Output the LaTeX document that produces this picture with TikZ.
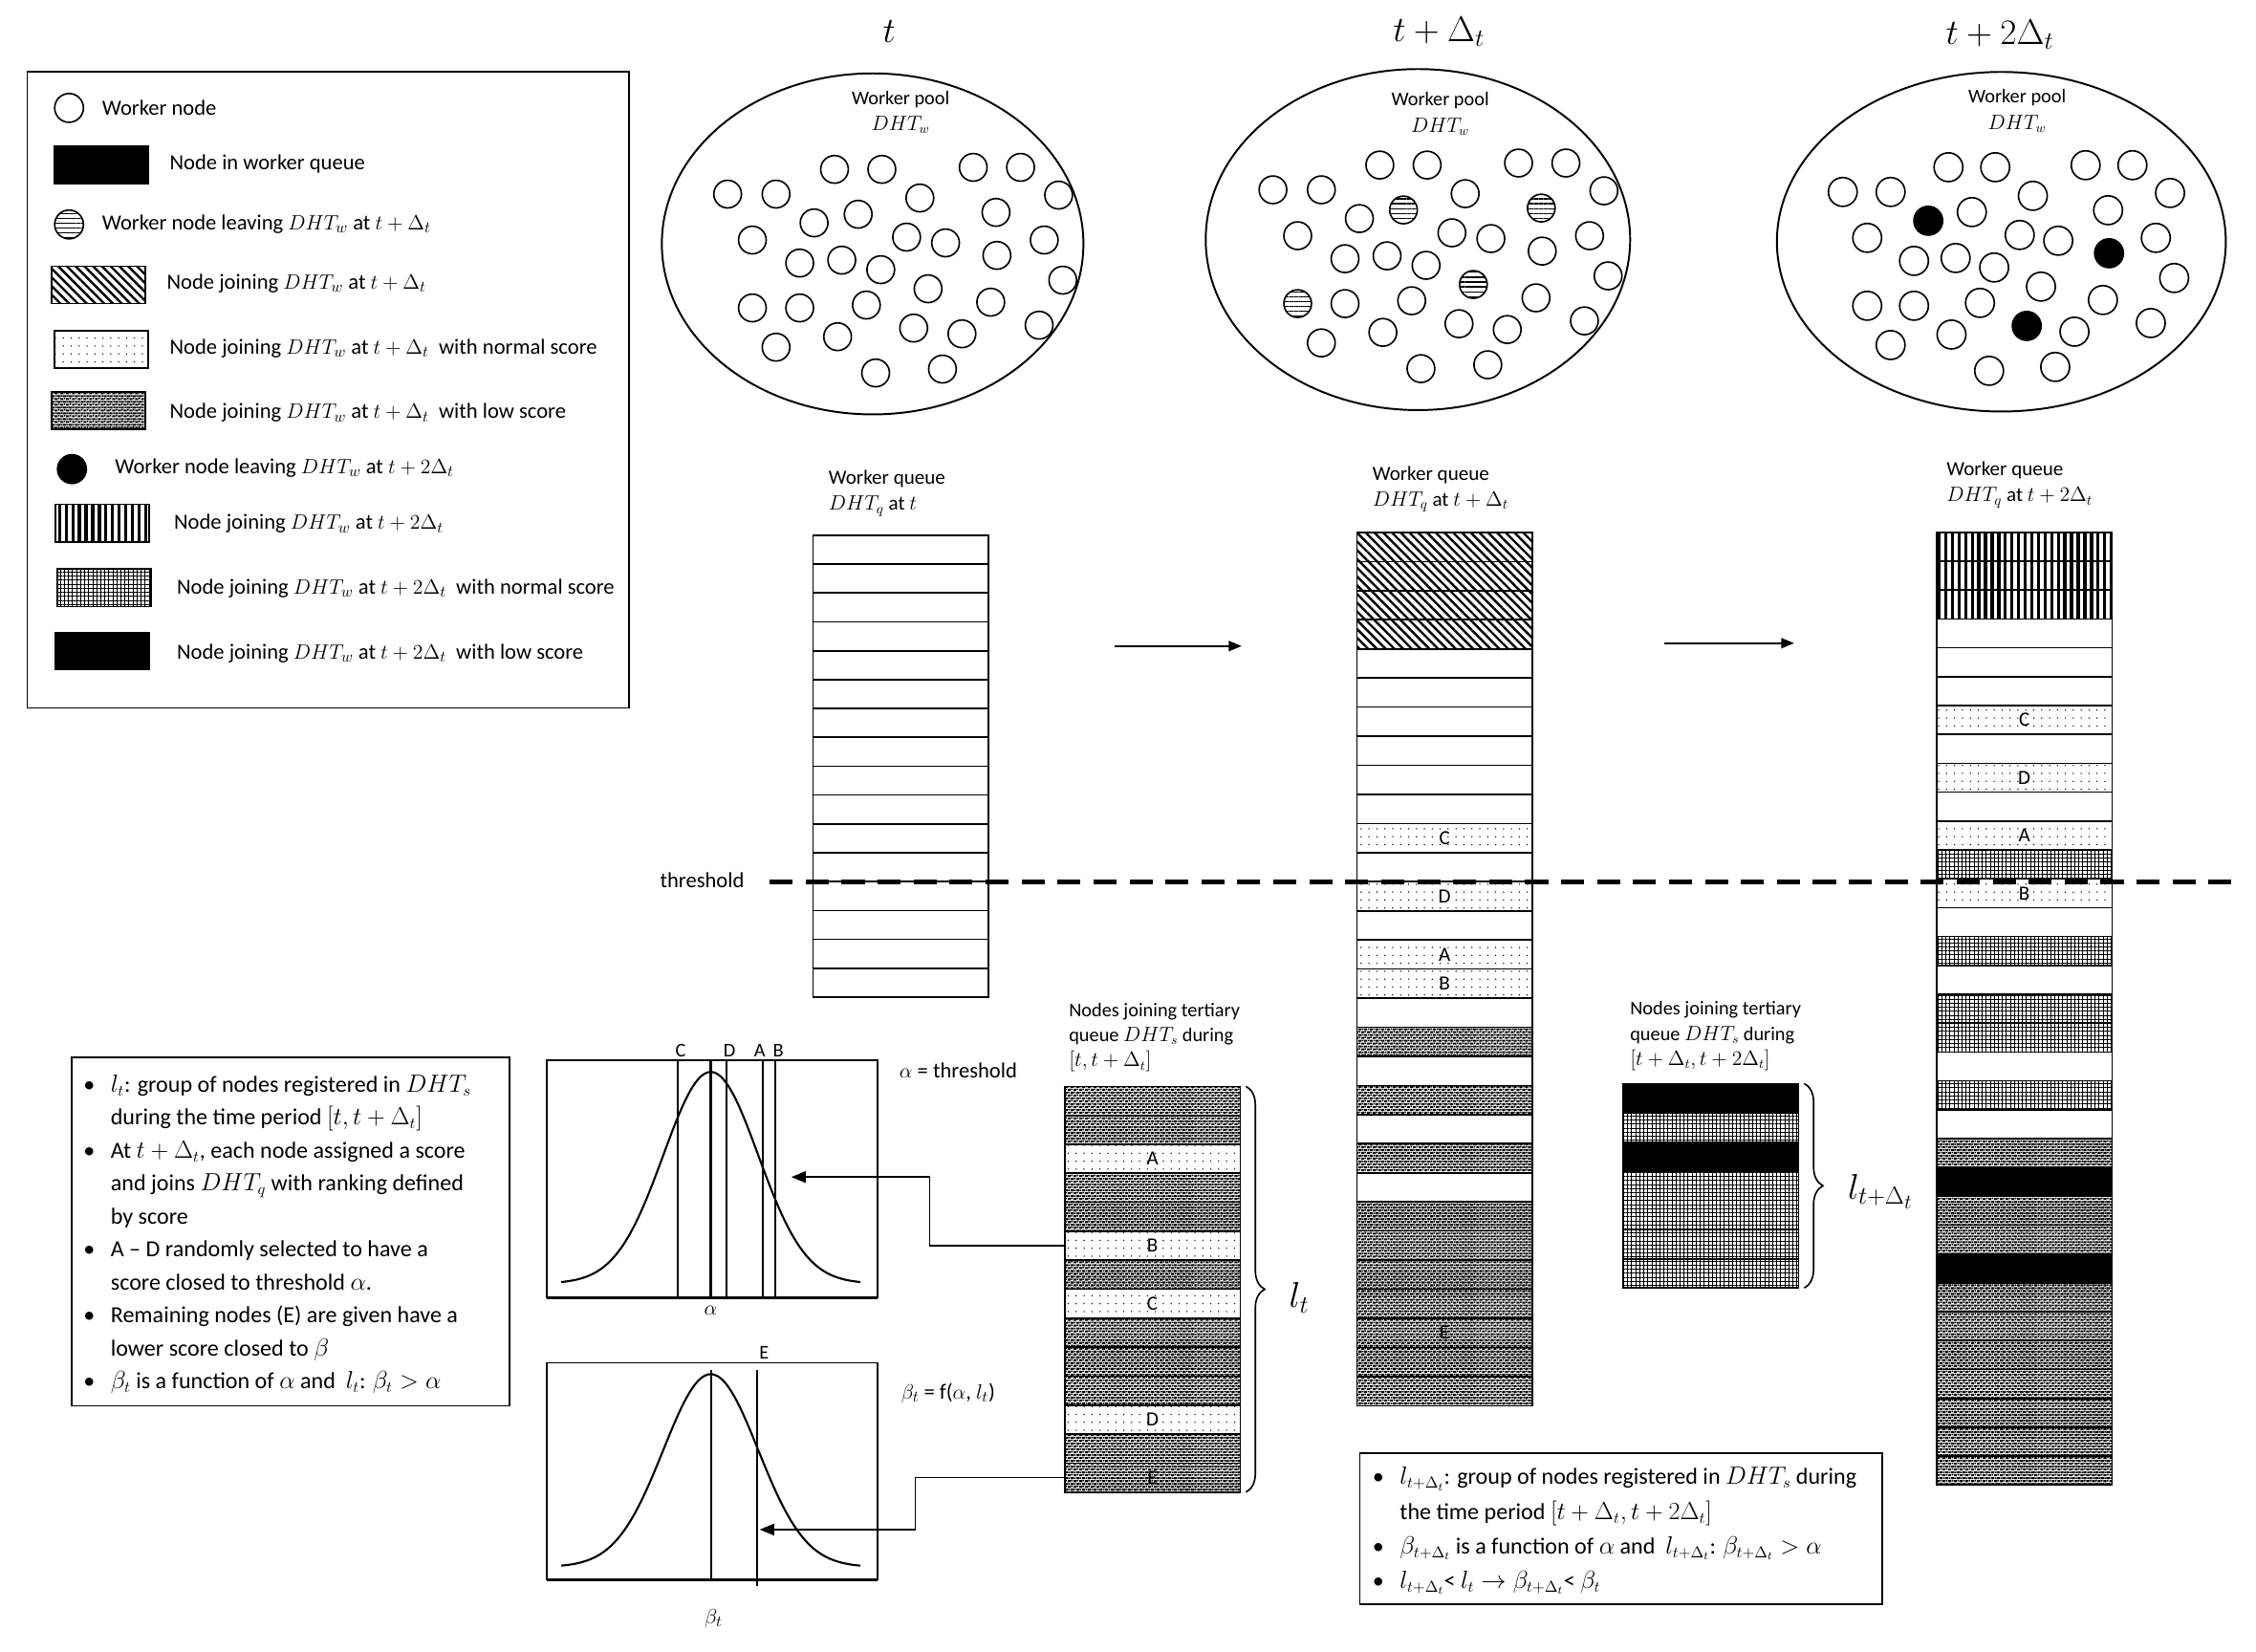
\documentclass[tikz,border=0pt]{standalone}
\usepackage{fontspec}
\setmainfont{Carlito}
\usetikzlibrary{calc,patterns,patterns.meta,arrows.meta,decorations.pathreplacing,shapes.geometric}
\pgfdeclarepatternformonly{speckle}{\pgfqpoint{-0.1pt}{-0.1pt}}{\pgfqpoint{4.1pt}{4.1pt}}{\pgfqpoint{4pt}{4pt}}{%
  \pgfpathrectangle{\pgfqpoint{0pt}{0pt}}{\pgfqpoint{2.2pt}{1.4pt}}%
  \pgfpathrectangle{\pgfqpoint{2pt}{2pt}}{\pgfqpoint{2.2pt}{1.4pt}}%
  \pgfpathrectangle{\pgfqpoint{2.6pt}{0.3pt}}{\pgfqpoint{1pt}{1pt}}%
  \pgfpathrectangle{\pgfqpoint{0.4pt}{2.5pt}}{\pgfqpoint{1pt}{1pt}}%
  \pgfusepath{fill}%
}
\tikzset{
  every node/.style={inner sep=0pt, outer sep=0pt},
  txt/.style={font=\fontsize{15}{18}\selectfont},
  small/.style={font=\fontsize{13.5}{17.5}\selectfont, align=left},
  rW/.style={fill=white},
  rH/.style={pattern={Lines[angle=-45,distance=4.3pt,line width=1.6pt]}},
  rN/.style={pattern={Dots[distance=5.5pt,radius=0.5pt]}},
  rL/.style={pattern=speckle},
  rV/.style={pattern={Lines[angle=90,distance=4.6pt,line width=2.2pt]}},
  rX/.style={pattern={Hatch[distance=2.8pt,line width=0.5pt]}},
  rK/.style={fill=black},
  qrow/.style={draw, line width=1.1pt, minimum width=122pt, minimum height=#1, anchor=north west, font=\fontsize{14}{14}\selectfont},
  lgrect/.style={draw, line width=1.1pt, minimum width=65pt, minimum height=26pt},
  cW/.style={draw, circle, line width=1.1pt, minimum size=19.2pt},
  cS/.style={cW, pattern={Lines[angle=0,distance=3.4pt,line width=0.9pt]}},
  cB/.style={cW, fill=black},
  pool/.style={draw, ellipse, line width=1.3pt},
  graph/.style={draw, line width=1.1pt},
  curve/.style={line width=1.4pt},
  flow/.style={line width=1.5pt, -{Triangle[length=9pt,width=7pt]}},
  garrow/.style={line width=1pt, -{Triangle[length=10pt,width=8pt]}},
  brc/.style={decorate, decoration={brace, amplitude=13pt}, line width=1.1pt},
  title/.style={font=\fontsize{24}{28}\selectfont},
  bigl/.style={font=\fontsize{27}{30}\selectfont},
}
\begin{document}
\begin{tikzpicture}[x=1pt,y=-1pt]
\useasboundingbox (0,0) rectangle (1568,1148);
\fill[white] (0,0) rectangle (1568,1148);

% ---------------- legend ----------------
\node[draw, line width=1.1pt, minimum width=418pt, minimum height=442pt, anchor=north west] (legend) at (19,50) {};
\node[cW, minimum size=20pt] (lg1) at (48,75) {};
\node[txt, anchor=west] (lt1) at (71,75) {Worker node};
\node[lgrect, rK] (lg2) at (70.5,114.5) {};
\node[txt, anchor=west] (lt2) at (118,114) {Node in worker queue};
\node[cS, minimum size=20pt] (lg3) at (48,156) {};
\node[txt, anchor=west] (lt3) at (71,156) {Worker node leaving $DHT_w$ at $t+\Delta_t$};
\node[lgrect, rH] (lg4) at (68.5,198) {};
\node[txt, anchor=west] (lt4) at (116,197) {Node joining $DHT_w$ at $t+\Delta_t$};
\node[lgrect, rN] (lg5) at (70.5,243) {};
\node[txt, anchor=west] (lt5) at (118,242) {Node joining $DHT_w$ at $t+\Delta_t$\ \ with normal score};
\node[lgrect, rL] (lg6) at (68.5,285.5) {};
\node[txt, anchor=west] (lt6) at (118,287) {Node joining $DHT_w$ at $t+\Delta_t$\ \ with low score};
\node[cB, minimum size=20pt] (lg7) at (50,326) {};
\node[txt, anchor=west] (lt7) at (80,325) {Worker node leaving $DHT_w$ at $t+2\Delta_t$};
\node[lgrect, rV] (lg8) at (71,363.5) {};
\node[txt, anchor=west] (lt8) at (121,364) {Node joining $DHT_w$ at $t+2\Delta_t$};
\node[lgrect, rX] (lg9) at (72.5,408.5) {};
\node[txt, anchor=west] (lt9) at (123,409) {Node joining $DHT_w$ at $t+2\Delta_t$\ \ with normal score};
\node[lgrect, rK] (lg10) at (71,452.5) {};
\node[txt, anchor=west] (lt10) at (123,454) {Node joining $DHT_w$ at $t+2\Delta_t$\ \ with low score};

% ---------------- titles ----------------
\node[title] (ti1) at (618,22) {$t$};
\node[title] (ti2) at (1000,22) {$t+\Delta_t$};
\node[title] (ti3) at (1390,24) {$t+2\Delta_t$};

% ---------------- pools ----------------
\node[pool, minimum width=293pt, minimum height=237pt] (e1) at (606.5,169.5) {};
\node[pool, minimum width=295pt, minimum height=237pt] (e2) at (985.5,166.5) {};
\node[pool, minimum width=312pt, minimum height=236pt] (e3) at (1391,168) {};
\node[txt, font=\fontsize{13.5}{16}\selectfont] (w1) at (626,69) {Worker pool};
\node[txt, font=\fontsize{13.5}{16}\selectfont] (d1) at (626,87) {$DHT_w$};
\node[txt, font=\fontsize{13.5}{16}\selectfont] (w2) at (1001,70) {Worker pool};
\node[txt, font=\fontsize{13.5}{16}\selectfont] (d2) at (1001,88) {$DHT_w$};
\node[txt, font=\fontsize{13.5}{16}\selectfont] (w3) at (1402,68) {Worker pool};
\node[txt, font=\fontsize{13.5}{16}\selectfont] (d3) at (1402,86) {$DHT_w$};

\foreach \x/\y/\sb/\sc [count=\k] in {
 -34.6/-51.8/cW/cW, -4.0/-51.8/cW/cW, 55.1/-53.2/cW/cW, 85.7/-53.2/cW/cW,
 -103.7/-34.6/cW/cW, -72.4/-34.6/cW/cW, 20.6/-31.9/cW/cW, 110.3/-33.9/cW/cW,
 -19.3/-20.6/cS/cW, -47.8/-14.6/cW/cB, 69.8/-21.9/cS/cW, -87.7/-2.7/cW/cW,
 12.0/-4.7/cW/cW, 37.2/-0.7/cW/cW, 101.0/-2.7/cW/cW, 70.4/8.0/cW/cB,
 -57.1/13.3/cW/cW, -29.9/11.3/cW/cW, -4.7/17.9/cW/cW, 113.0/25.2/cW/cW,
 25.9/31.2/cS/cW, -87.7/44.5/cS/cW, -57.1/44.5/cW/cW, -14.0/42.5/cW/cW,
 66.4/40.5/cW/cW, 16.6/58.5/cW/cB, 47.8/62.5/cW/cW, 97.7/56.5/cW/cW,
 -72.4/71.8/cW/cW, -32.6/64.5/cW/cW, -8.0/89.7/cW/cW, 35.2/87.0/cW/cW} {
  \node[cW] (pa\k) at ($(606.5,169.5)+(1.075*\x+10.7,\y)$) {};
  \node[\sb] (pb\k) at ($(985.5,166.5)+(1.075*\x+10.7,\y)$) {};
  \node[\sc, minimum size=20pt] (pc\k) at ($(1391,168)+(1.063*\x,\y)$) {};
}

% ---------------- worker queues ----------------
\node[small, anchor=north west, font=\fontsize{14}{18}\selectfont] (qal) at (576,327) {Worker queue\\$DHT_q$ at $t$};
\node[small, anchor=north west, font=\fontsize{14}{18}\selectfont] (qbl) at (954,324) {Worker queue\\$DHT_q$ at $t+\Delta_t$};
\node[small, anchor=north west, font=\fontsize{14}{18}\selectfont] (qcl) at (1353,321) {Worker queue\\$DHT_q$ at $t+2\Delta_t$};

\foreach \i in {1,...,16}
  \node[qrow=20.06pt, rW] (qa\i) at (565,{372+(\i-1)*20.06}) {};

\foreach \s/\lab [count=\i] in {rH/{},rH/{},rH/{},rH/{},rW/{},rW/{},rW/{},rW/{},rW/{},rW/{},
  rN/C,rW/{},rN/D,rW/{},rN/A,rN/B,rW/{},rL/{},rW/{},rL/{},rW/{},rL/{},rW/{},
  rL/{},rL/{},rL/{},rL/{},rL/E,rL/{},rL/{}}
  \node[qrow=20.23pt, \s] (qb\i) at (943,{370+(\i-1)*20.23}) {\lab};

\foreach \s/\lab [count=\i] in {rV/{},rV/{},rV/{},rW/{},rW/{},rW/{},rN/C,rW/{},rN/D,rW/{},
  rN/A,rX/{},rN/B,rW/{},rX/{},rW/{},rX/{},rX/{},rW/{},rX/{},rW/{},rL/{},rK/{},
  rL/{},rL/{},rK/{},rL/{},rL/{},rL/{},rL/{},rL/{},rL/{},rL/{}}
  \node[qrow=20.06pt, \s] (qc\i) at (1346,{370+(\i-1)*20.06}) {\lab};

% arrows between queues
\coordinate (f1a) at (775,449); \coordinate (f1b) at (863,449);
\coordinate (f2a) at (1157,447); \coordinate (f2b) at (1247,447);
\draw[flow] (f1a) -- (f1b);
\draw[flow] (f2a) -- (f2b);

% ---------------- tertiary queues ----------------
\node[small, anchor=north west] (tsl1) at (743,697) {Nodes joining tertiary\\queue $DHT_s$ during\\$[t,t+\Delta_t]$};
\node[small, anchor=north west] (tsl2) at (1133,696) {Nodes joining tertiary\\queue $DHT_s$ during\\$[t+\Delta_t,t+2\Delta_t]$};

\foreach \s/\lab [count=\i] in {rL/{},rL/{},rN/A,rL/{},rL/{},rN/B,rL/{},rN/C,rL/{},rL/{},rL/{},rN/D,rL/{},rL/E}
  \node[qrow=20.14pt, \s] (lt\i) at (740,{755+(\i-1)*20.14}) {\lab};

\foreach \s [count=\i] in {rK,rX,rK,rX,rX,rX,rX}
  \node[qrow=20.3pt, \s] (lu\i) at (1128,{753+(\i-1)*20.3}) {};

\draw[brc] ($(lt1.north east)+(4,0)$) -- ($(lt14.south east)+(4,0)$);
\node[bigl] (ltl) at (903,902) {$l_t$};
\draw[brc] ($(lu1.north east)+(4,0)$) -- ($(lu7.south east)+(4,0)$);
\node[bigl] (lul) at (1307,828) {$l_{t+\Delta_t}$};

% ---------------- graphs ----------------
\node[graph, minimum width=230pt, minimum height=165pt] (g1) at (495,819.5) {};
\draw[line width=2.2pt] (g1.south west) -- (g1.south east);
\draw[line width=1.2pt] (471,737) -- (471,902);
\draw[line width=2.4pt] (494,737) -- (494,902);
\draw[line width=1.2pt] (505,737) -- (505,902);
\draw[line width=1.2pt] (530,737) -- (530,902);
\draw[line width=1.2pt] (539,737) -- (539,902);
\draw[curve] plot[domain=390:598, samples=80, smooth] (\x, {892-147*exp(-0.5*pow((\x-494)/33,2))});
\node[small] (lc) at (473,730) {C};
\node[small] (ld) at (507,730) {D};
\node[small] (la) at (528,730) {A};
\node[small] (lb) at (541,730) {B};
\node[txt] (lal) at (494,911) {$\alpha$};
\node[txt] (thr) at (666,744) {$\alpha$ = threshold};

\node[graph, minimum width=230pt, minimum height=151pt] (g2) at (495,1022.5) {};
\draw[line width=2.2pt] (g2.south west) -- (g2.south east);
\draw[line width=1.3pt] (494,952) -- (494,1098);
\draw[line width=1.3pt] (526,952) -- (526,1102);
\draw[curve] plot[domain=390:598, samples=80, smooth] (\x, {1089-134*exp(-0.5*pow((\x-494)/33,2))});
\node[small] (le) at (531,940) {E};
\node[txt] (lbt) at (496,1125) {$\beta_t$};
\node[txt] (bf) at (659,968) {$\beta_t$ = f($\alpha$, $l_t$)};

\coordinate (g1tip) at (550,818);
\coordinate (g2tip) at (528,1063);
\draw[garrow] (lt6.west) -- ++(-94,0) |- (g1tip);
\draw[garrow] (lt14.west) -- ++(-104,0) |- (g2tip);

% ---------------- text boxes ----------------
\node[draw, line width=1.1pt, minimum width=304pt, minimum height=242pt, anchor=north west] (tb1) at (50,735) {};
\node[anchor=north west, font=\fontsize{16}{22.9}\selectfont] (tb1t) at (58,743) {%
\begin{tabular}{@{}l@{\hspace{11pt}}l@{}}
\textbullet & $l_t$: group of nodes registered in $DHT_s$\\
 & during the time period $[t,t+\Delta_t]$\\
\textbullet & At $t+\Delta_t$, each node assigned a score\\
 & and joins $DHT_q$ with ranking defined\\
 & by score\\
\textbullet & A -- D randomly selected to have a\\
 & score closed to threshold $\alpha$.\\
\textbullet & Remaining nodes (E) are given have a\\
 & lower score closed to $\beta$\\
\textbullet & $\beta_t$ is a function of $\alpha$ and\ \ $l_t$: $\beta_t>\alpha$
\end{tabular}};

\node[draw, line width=1.1pt, minimum width=363pt, minimum height=105pt, anchor=north west] (tb2) at (945,1010) {};
\node[anchor=north west, font=\fontsize{16}{24}\selectfont] (tb2t) at (954,1015) {%
\begin{tabular}{@{}l@{\hspace{11pt}}l@{}}
\textbullet & $l_{t+\Delta_t}$: group of nodes registered in $DHT_s$ during\\
 & the time period $[t+\Delta_t,t+2\Delta_t]$\\
\textbullet & $\beta_{t+\Delta_t}$ is a function of $\alpha$ and\ \ $l_{t+\Delta_t}$: $\beta_{t+\Delta_t}>\alpha$\\
\textbullet & $l_{t+\Delta_t}$< $l_t\rightarrow\beta_{t+\Delta_t}$< $\beta_t$
\end{tabular}};

% ---------------- threshold ----------------
\node[txt] (thl) at (488,612) {threshold};
\coordinate (thA) at (535,613); \coordinate (thB) at (1552,613);
\draw[line width=3.4pt, dash pattern=on 16pt off 9pt] (thA) -- (thB);
\end{tikzpicture}
\end{document}
